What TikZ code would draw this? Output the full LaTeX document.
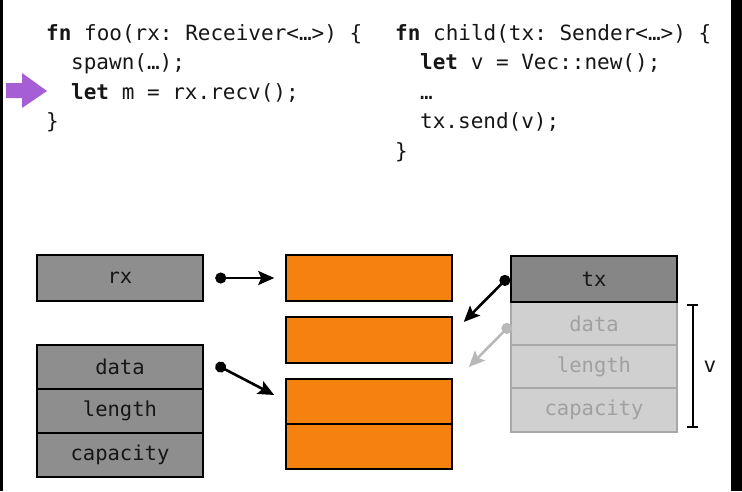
\documentclass[tikz,border=0pt]{standalone}
\usepackage{fontspec}
\newfontfamily\codefont{DejaVu Sans Mono}
\usetikzlibrary{arrows.meta}
\frenchspacing
\definecolor{boxgray}{RGB}{142,142,142}
\definecolor{headgray}{RGB}{134,134,134}
\definecolor{bufor}{RGB}{245,130,15}
\definecolor{ghostfill}{RGB}{208,208,208}
\definecolor{ghostline}{RGB}{168,168,168}
\definecolor{ghosttext}{RGB}{160,160,160}
\definecolor{ghostptr}{RGB}{185,185,185}
\definecolor{inktext}{RGB}{22,22,22}
\definecolor{marker}{RGB}{166,94,214}
\tikzset{
  code/.style={anchor=base west, inner sep=0pt, text=inktext,
    font=\codefont\fontsize{21}{24}\selectfont},
  cell/.style={draw, line width=1.5pt, minimum width=166pt,
    minimum height=44pt, inner sep=0pt, text=inktext,
    font=\codefont\fontsize{20.5}{24}\selectfont},
  stackcell/.style={cell, fill=boxgray},
  bufcell/.style={cell, fill=bufor},
  ghost/.style={cell, fill=ghostfill, draw=ghostline, text=ghosttext},
  ptr/.style={{Circle[length=11pt]}-{Stealth[length=16pt,width=14pt,inset=3pt]},
    line width=2.6pt}
}
\begin{document}
\begin{tikzpicture}[x=1pt, y=-1pt]
    \useasboundingbox (0,0) rectangle (742,491);
    % frame edges
    \fill[black] (0,0) rectangle (3,491);
    \fill[black] (731,0) rectangle (742,491);

    % code
    \node[code] (foo1) at (46,40) {\textbf{fn} foo(rx: Receiver<…>) \{};
    \node[code] (foo2) at (71,69.5) {spawn(…);};
    \node[code] (foo3) at (71,99) {\textbf{let} m = rx.recv();};
    \node[code] (foo4) at (46,128.5) {\}};
    \node[code] (child1) at (395,40) {\textbf{fn} child(tx: Sender<…>) \{};
    \node[code] (child2) at (420,69.5) {\textbf{let} v = Vec::new();};
    \node[code] (child3) at (420,99) {…};
    \node[code] (child4) at (420,128.5) {tx.send(v);};
    \node[code] (child5) at (395,158) {\}};

    % marker
    \fill[marker] (6,83) -- (22,83) -- (22,73) -- (47,91) -- (22,108)
      -- (22,98) -- (6,98) -- cycle;

    % stack of foo
    \node[stackcell, minimum height=46pt] (rx) at (120,278) {rx};
    \node[stackcell] (data) at (120,367) {data};
    \node[stackcell] (length) at (120,411) {length};
    \node[stackcell] (capacity) at (120,455) {capacity};

    % heap
    \node[bufcell, minimum height=46pt] (buf1) at (369,278) {};
    \node[bufcell, minimum height=46pt] (buf2) at (369,340) {};
    \node[bufcell, minimum height=45pt] (buf3) at (369,401.5) {};
    \node[bufcell, minimum height=45pt] (buf4) at (369,446.5) {};

    % stack of child
    \node[ghost, minimum height=43pt] (vdata) at (594,323.5) {data};
    \node[ghost, minimum height=43pt] (vlength) at (594,366.5) {length};
    \node[ghost] (vcapacity) at (594,410) {capacity};
    \node[stackcell, fill=headgray, minimum height=46pt] (tx) at (594,279) {tx};

    % pointers
    \draw[ptr] ([xshift=11.5]rx.east) -- ([xshift=-11]buf1.west);
    \draw[ptr] ([shift={(12,-2.5)}]data.east) -- ([shift={(-11,-6.5)}]buf3.west);
    \draw[ptr, ghostptr] ([shift={(0.5,1)}]vdata.west) -- ([shift={(16,27)}]buf2.east);
    \draw[ptr] ([shift={(-1.5,-2.5)}]tx.west) -- ([shift={(11,-18)}]buf2.east);

    % extent of v
    \coordinate (vtop) at ([shift={(15,3)}]vdata.north east);
    \coordinate (vbot) at ([shift={(15,-5)}]vcapacity.south east);
    \draw[{Bar[width=11pt]}-{Bar[width=11pt]}, line width=1.6pt] (vtop) -- (vbot);
    \node[code, anchor=center] (vname) at (710,367) {v};
\end{tikzpicture}
\end{document}
